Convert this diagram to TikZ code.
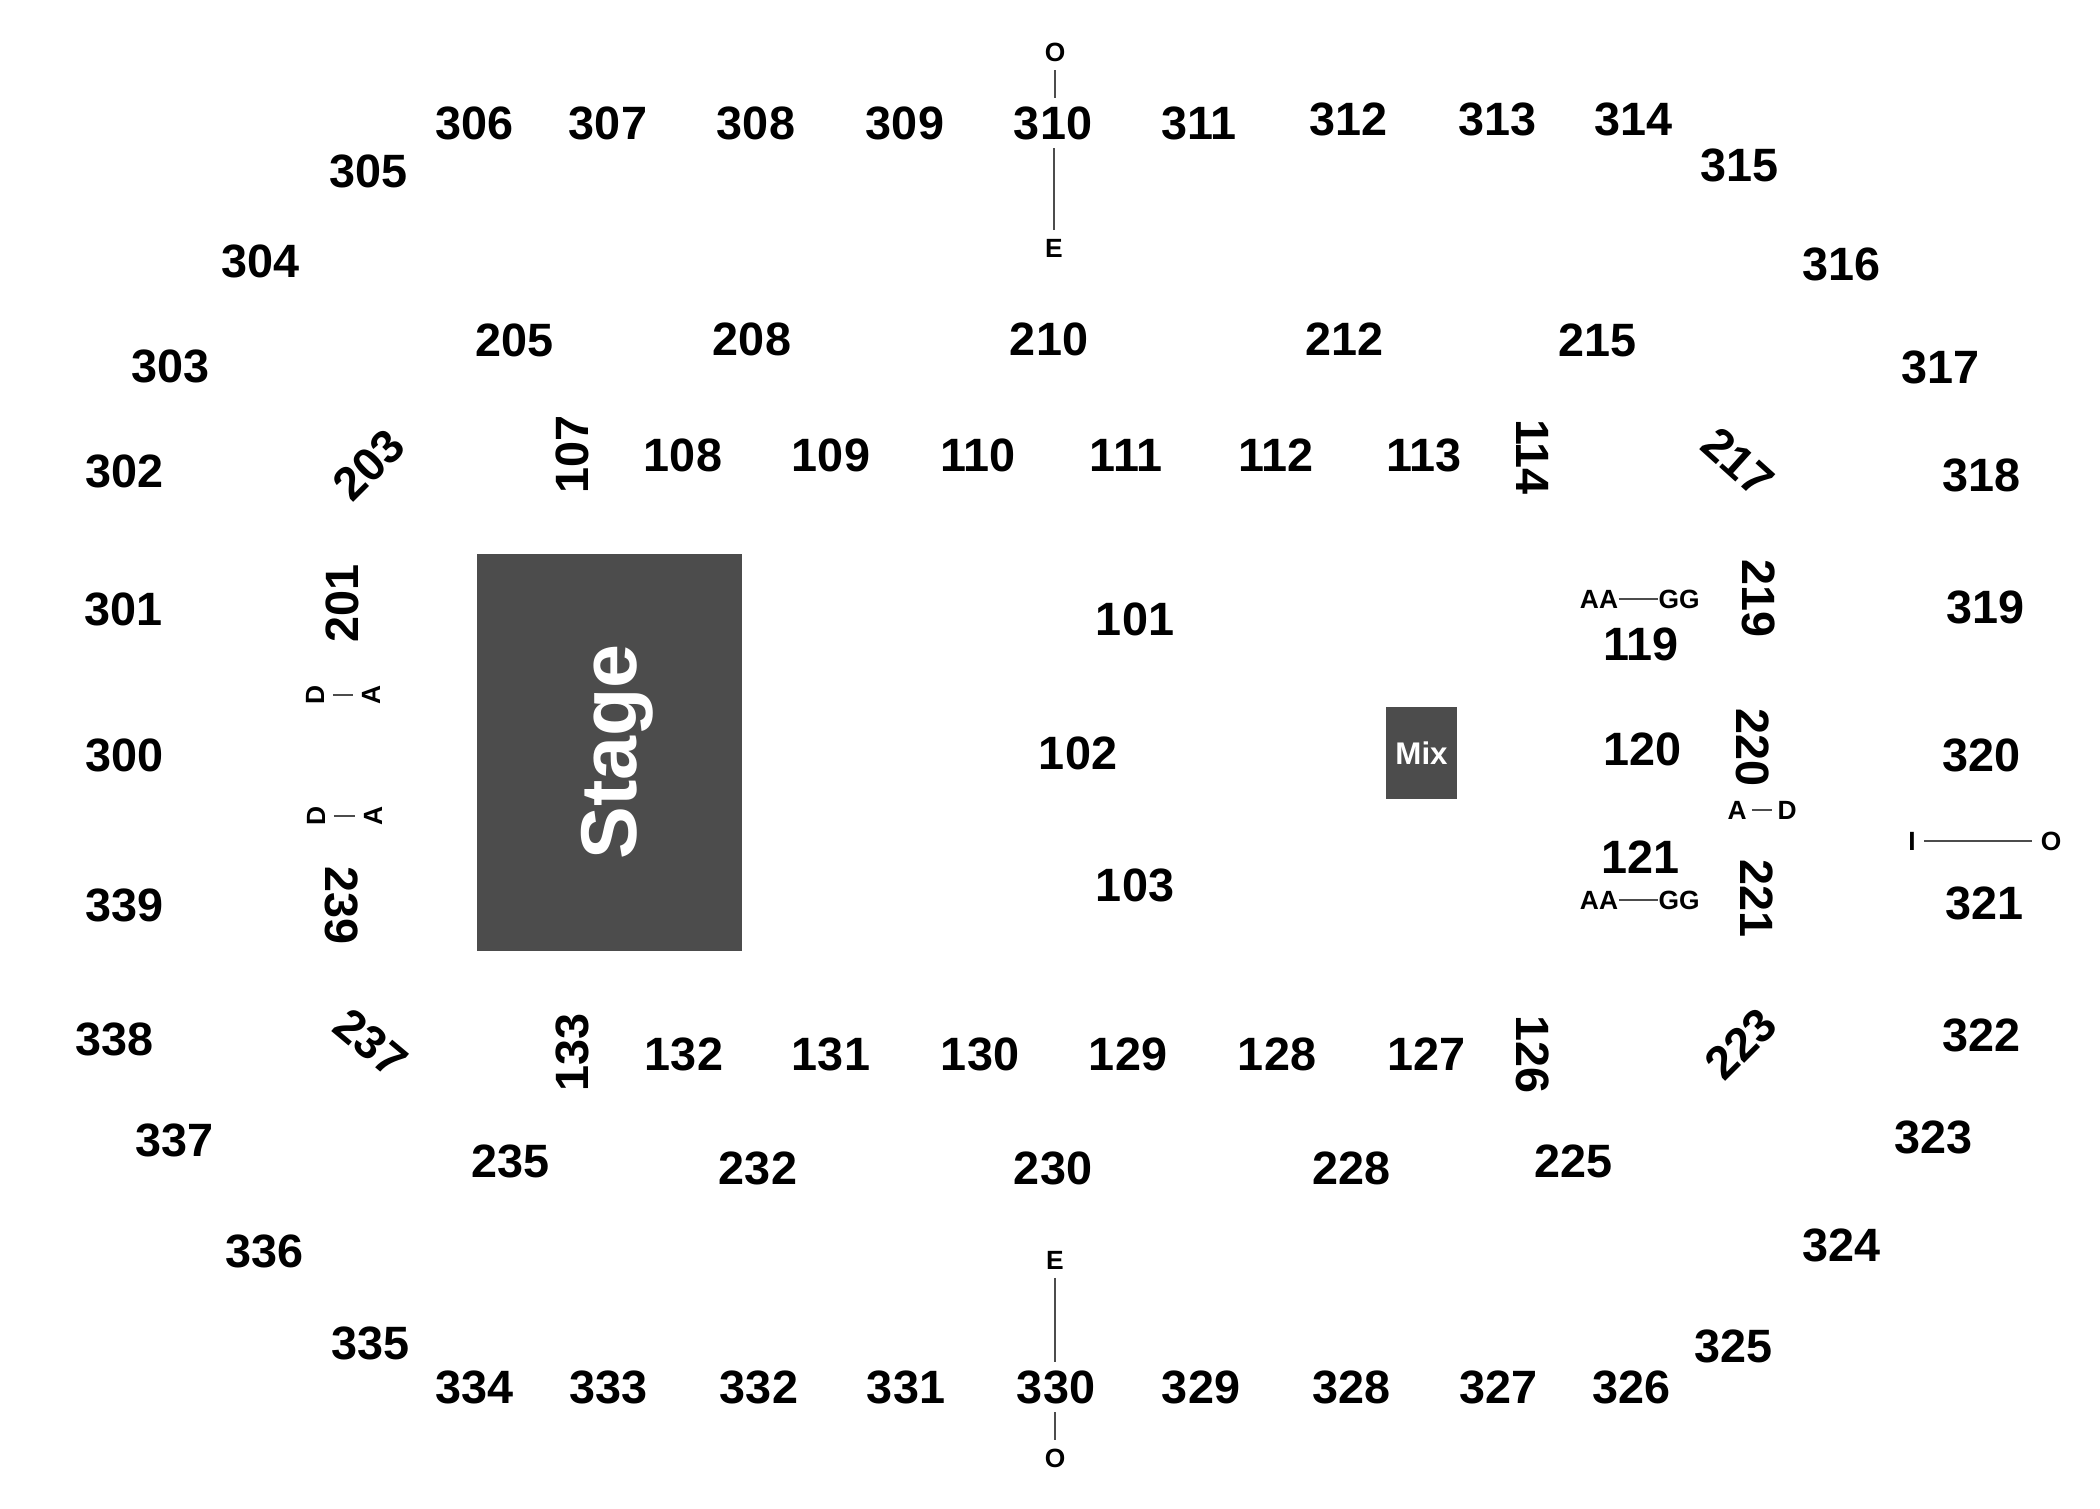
\documentclass[tikz,border=0pt]{standalone}
\usepackage{fontspec}
\setmainfont{Liberation Sans}
\begin{document}
\begin{tikzpicture}[
        x=0.01cm, y=-0.01cm,
        sec/.style={font=\fontsize{13.3}{14}\selectfont\bfseries, inner sep=0.08cm},
        tag/.style={font=\fontsize{7.5}{8}\selectfont\bfseries, inner sep=0.08cm},
        rowtag/.style={font=\fontsize{7.5}{8}\selectfont\bfseries, inner sep=0pt},
        link/.style={draw=black!70, line width=0.4pt},
        block/.style={fill=black!70, draw=none, inner sep=0pt, text=white}
    ]
    \useasboundingbox (0,0) rectangle (2100,1508);
    % stage and mix
    \node[block, minimum width=2.65cm, minimum height=3.97cm] (stage) at (609.5,752.5) {};
    \node[block, rotate=90, font=\fontsize{22.5}{24}\selectfont\bfseries] (stagetext) at (617,752) {Stage};
    \node[block, minimum width=0.71cm, minimum height=0.92cm, font=\fontsize{8.9}{10}\selectfont\bfseries] (mix) at (1421.5,753) {Mix};
    % upper level
    \foreach \lab/\x/\y in {306/475/123, 307/608/123, 308/756/123, 309/905/123, 310/1053/123, 311/1199/123,
            312/1348/119, 313/1497/119, 314/1633/119, 305/369/171, 315/1739/165, 304/261/261, 316/1841/264,
            303/171/366, 317/1940/367, 302/125/471, 318/1981/475, 301/124/609, 319/1985/607, 300/125/755,
            320/1981/755, 339/125/905, 321/1984/903, 338/115/1039, 322/1981/1035, 337/175/1140, 323/1933/1137,
            336/265/1251, 324/1841/1245, 335/371/1343, 325/1733/1346, 334/475/1387, 333/609/1387, 332/759/1387,
            331/906/1387, 330/1056/1387, 329/1201/1387, 328/1351/1387, 327/1498/1387, 326/1631/1387} {
        \node[sec] (s\lab) at (\x, \y) {\lab};
    }
    % middle level
    \foreach \lab/\x/\y in {205/515/340, 208/752/339, 210/1049/339, 212/1344/339, 215/1597/340,
            235/511/1161, 232/758/1168, 230/1053/1168, 228/1351/1168, 225/1573/1161} {
        \node[sec] (s\lab) at (\x, \y) {\lab};
    }
    % floor
    \foreach \lab/\x/\y in {108/683/455, 109/831/455, 110/978/455, 111/1126/455, 112/1276/455, 113/1424/455,
            101/1135/619, 102/1078/753, 103/1135/885, 119/1641/644, 120/1642/749, 121/1640/857,
            132/684/1054, 131/831/1054, 130/980/1054, 129/1128/1054, 128/1277/1054, 127/1426/1054} {
        \node[sec] (s\lab) at (\x, \y) {\lab};
    }
    % turned labels
    \foreach \lab/\x/\y/\a in {201/342/603/90, 107/572/454/90, 133/572/1052/90, 239/342/905/-90,
            114/1533/457/-90, 126/1533/1054/-90, 219/1759/598/-90, 220/1753/747/-90, 221/1757/898/-90,
            203/369/465/45, 217/1738/462/-42, 237/371/1043/-40, 223/1741/1044/45} {
        \node[sec, rotate=\a] (s\lab) at (\x, \y) {\lab};
    }
    % row letters
    \node[tag] (top o) at (1055,52) {O};
    \node[tag] (top e) at (1054,248) {E};
    \node[tag] (bot e) at (1055,1260) {E};
    \node[tag] (bot o) at (1055,1458) {O};
    \path[link] (top o.south) -- (top o.south |- s310.north);
    \path[link] (top e.north) -- (top e.north |- s310.south);
    \path[link] (bot e.south) -- (bot e.south |- s330.north);
    \path[link] (bot o.north) -- (bot o.north |- s330.south);
    \node[rowtag] (aa up) at (1599,599) {AA};
    \node[rowtag] (gg up) at (1679,599) {GG};
    \node[rowtag] (aa low) at (1599,900) {AA};
    \node[rowtag] (gg low) at (1679,900) {GG};
    \path[link] (aa up) -- (gg up);
    \path[link] (aa low) -- (gg low);
    \node[tag, inner sep=0.045cm] (a right) at (1737,810) {A};
    \node[tag, inner sep=0.045cm] (d right) at (1787,810) {D};
    \path[link] (a right) -- (d right);
    \node[tag] (i far) at (1912,841) {I};
    \node[tag] (o far) at (2051,841) {O};
    \path[link] (i far) -- (o far);
    \node[tag, rotate=90] (d up) at (315,695) {D};
    \node[tag, rotate=90] (a up) at (371,695) {A};
    \path[link] (d up) -- (a up);
    \node[tag, rotate=90] (d low) at (316,816) {D};
    \node[tag, rotate=90] (a low) at (373,816) {A};
    \path[link] (d low) -- (a low);
\end{tikzpicture}
\end{document}
